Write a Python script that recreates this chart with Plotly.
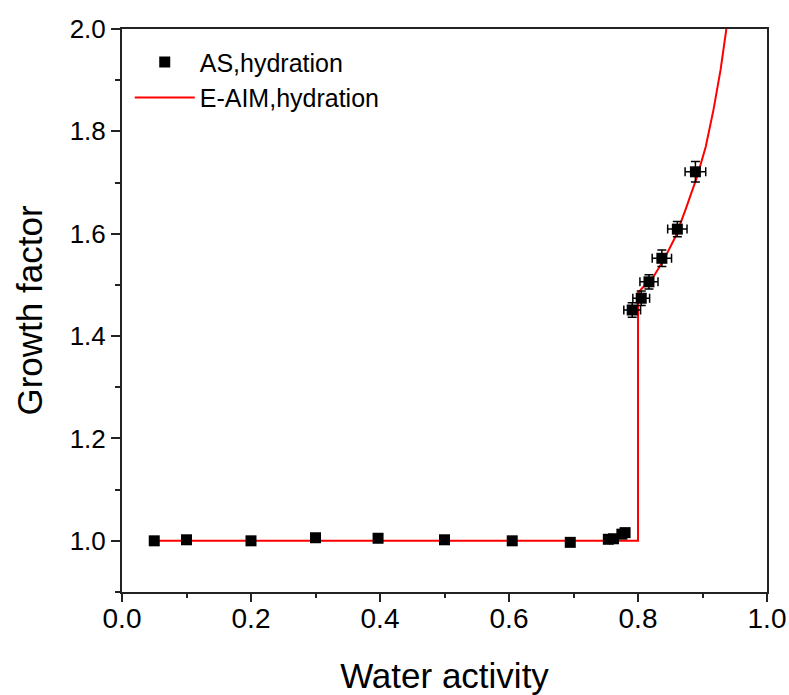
import plotly.graph_objects as go

# Measured data (AS, hydration)
aw = [0.05, 0.10, 0.20, 0.30, 0.397, 0.50, 0.605, 0.695, 0.754, 0.762, 0.775, 0.78,
      0.791, 0.805, 0.817, 0.837, 0.861, 0.889]
gf = [1.000, 1.002, 1.000, 1.006, 1.005, 1.002, 1.000, 0.997, 1.003, 1.004, 1.013, 1.016,
      1.451, 1.474, 1.506, 1.552, 1.609, 1.721]
aw_err = [0.002, 0.002, 0.004, 0.005, 0.006, 0.006, 0.006, 0.006, 0.006, 0.006, 0.006, 0.006,
          0.013, 0.013, 0.014, 0.015, 0.015, 0.016]
gf_err = [0.004, 0.004, 0.004, 0.004, 0.004, 0.004, 0.004, 0.004, 0.004, 0.004, 0.004, 0.004,
          0.014, 0.014, 0.014, 0.016, 0.015, 0.020]

# E-AIM model curve
model_aw = [0.05, 0.8, 0.8, 0.806, 0.824, 0.840, 0.858, 0.874, 0.892, 0.905, 0.917, 0.928, 0.937]
model_gf = [1.0, 1.0, 1.484, 1.493, 1.516, 1.549, 1.594, 1.648, 1.713, 1.770, 1.842, 1.920, 2.0]

x_ticks = [0.0, 0.2, 0.4, 0.6, 0.8, 1.0]
y_ticks = [1.0, 1.2, 1.4, 1.6, 1.8, 2.0]

FONT = "Liberation Sans, Arial, sans-serif"

fig = go.Figure()
fig.add_trace(go.Scatter(
    x=model_aw, y=model_gf, mode="lines", name="E-AIM,hydration",
    line=dict(color="#ff0000", width=2), showlegend=True))
fig.add_trace(go.Scatter(
    x=aw, y=gf, mode="markers", name="AS,hydration",
    marker=dict(symbol="square", size=11, color="black"),
    error_x=dict(type="data", array=aw_err, color="black", thickness=1.5, width=4.5),
    error_y=dict(type="data", array=gf_err, color="black", thickness=1.5, width=4.5)))
# empty helper trace so the tick-only overlay axis is drawn
fig.add_trace(go.Scatter(x=[], y=[], xaxis="x2", showlegend=False, hoverinfo="skip"))

fig.update_layout(
    width=789, height=695,
    margin=dict(l=122, r=22, t=29, b=103),
    paper_bgcolor="white", plot_bgcolor="white",
    font=dict(family=FONT, color="black", size=26),
    legend=dict(x=0.012, y=0.982, xanchor="left", yanchor="top",
                traceorder="reversed", itemwidth=60, tracegroupgap=0,
                bgcolor="rgba(0,0,0,0)", font=dict(size=25)),
    xaxis=dict(
        range=[0, 1.0], tickvals=x_ticks, ticktext=[f"{v:.1f}" for v in x_ticks],
        ticks="",
        showline=True, linewidth=2, linecolor="#222", mirror=True,
        showgrid=False, zeroline=False, automargin=False,
        tickfont=dict(size=28),
        title=dict(text="Water activity", font=dict(size=35), standoff=31)),
    xaxis2=dict(
        range=[0, 1.0], overlaying="x", anchor="y", side="bottom",
        tickvals=x_ticks, showticklabels=False,
        ticks="outside", ticklen=9, tickwidth=1.5, tickcolor="#222",
        showline=False, showgrid=False, zeroline=False, automargin=False,
        minor=dict(dtick=0.1, tick0=0, ticks="outside", ticklen=5, tickwidth=1.5, tickcolor="#222")),
    yaxis=dict(
        range=[0.9, 2.0], tickvals=y_ticks, ticktext=[f"{v:.1f}" for v in y_ticks],
        ticks="outside", ticklen=9, tickwidth=1.5, tickcolor="#222",
        showline=True, linewidth=2, linecolor="#222", mirror=True,
        showgrid=False, zeroline=False, automargin=False,
        tickfont=dict(size=26),
        minor=dict(dtick=0.1, tick0=0.9, ticks="outside", ticklen=5, tickwidth=1.5, tickcolor="#222"),
        title=dict(text="Growth factor", font=dict(size=35), standoff=16)),
)

fig.write_html("out.html")
